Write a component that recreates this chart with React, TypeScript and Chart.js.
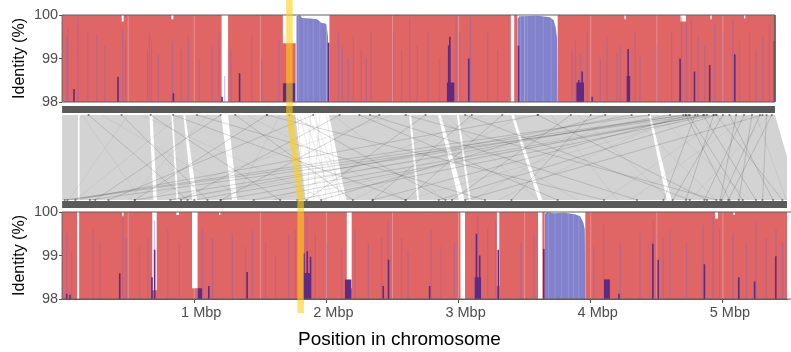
import React, { useEffect, useRef } from 'react';
import { Chart, registerables } from 'chart.js';

Chart.register(...registerables);

const FONT = "'Liberation Sans', Arial, Helvetica, sans-serif";

// ---------------- data (positions in Mbp, identity in %) ----------------
const xTickValues = [1, 2, 3, 4, 5];
const xGridValues = [0.5, 1, 1.5, 2, 2.5, 3, 3.5, 4, 4.5, 5];
const yTickValues = [98, 99, 100];
const yGridValues = [98.5, 99, 99.5];
const xMax = 5.485;
const topLength = 5.394;
const bottomLength = 5.58;
const highlightTop = 1.72;
const highlightBottom = 1.805;

// red identity profile = 100 % except these dips [start, end, level]
const topRedDips: [number, number, number][] = [
  [0.451, 0.466, 99.85], [0.827, 0.842, 99.9], [1.207, 1.256, 98], [1.67, 1.767, 99.35],
  [1.767, 2.023, 98], [3.395, 3.421, 98], [3.445, 3.75, 98], [4.255, 4.265, 99.9],
  [4.68, 4.72, 99.85], [4.905, 4.915, 99.9], [5.16, 5.17, 99.92],
];
const bottomRedDips: [number, number, number][] = [
  [0.114, 0.129, 98], [0.455, 0.465, 99.9], [0.682, 0.716, 98.2], [0.865, 0.885, 99.93],
  [0.983, 1.025, 98.25], [1.188, 1.198, 99.93], [2.154, 2.191, 98.25], [3.014, 3.049, 98],
  [3.29, 3.308, 98.3], [3.601, 3.634, 98], [3.651, 3.959, 98], [4.94, 4.963, 99.85],
  [5.08, 5.09, 99.93],
];

// blue identity regions
const topBlueRegions: [number, number][][] = [
  [[1.772, 98], [1.772, 99.97], [1.8, 100], [1.815, 99.93], [1.88, 99.92], [1.93, 99.9], [1.96, 99.82], [2.0, 99.8], [2.012, 99.5], [2.018, 98]],
  [[3.445, 98], [3.445, 99.9], [3.46, 99.97], [3.6, 99.98], [3.69, 99.95], [3.72, 99.88], [3.735, 99.7], [3.746, 99.45], [3.75, 98]],
];
const bottomBlueRegions: [number, number][][] = [
  [[3.651, 98], [3.651, 99.95], [3.67, 100], [3.72, 99.97], [3.8, 99.98], [3.88, 99.95], [3.92, 99.9], [3.945, 99.75], [3.955, 99.6], [3.959, 98]],
];
// pale streaks inside blue regions [position, identity]
const topBlueStreaks: [number, number][] = [
  [1.79, 99.97], [1.83, 99.92], [1.86, 99.92], [1.9, 99.9], [1.95, 99.85], [3.47, 99.97], [3.52, 99.98], [3.58, 99.98], [3.64, 99.96], [3.7, 99.9],
];
const bottomBlueStreaks: [number, number][] = [
  [3.68, 99.99], [3.73, 99.97], [3.78, 99.98], [3.83, 99.97], [3.87, 99.95], [3.91, 99.9],
];

// light (overlapping) streaks [position, identity]
const topLavender: [number, number][] = [
  [0.035, 99.5], [0.044, 99.7], [0.12, 99.95], [0.195, 99.6], [0.263, 99.55], [0.323, 99.3], [0.458, 99.65], [0.481, 99.4],
  [0.646, 99.2], [0.661, 99.6], [0.676, 99.45], [0.728, 99.1], [0.834, 99.4], [0.902, 99.2], [0.955, 99.5], [1.038, 99.0],
  [1.135, 99.3], [1.188, 99.6], [1.23, 98.6], [1.276, 99.2], [1.434, 99.5], [1.511, 99.0], [1.639, 99.4], [2.091, 99.6],
  [2.121, 99.3], [2.166, 99.0], [2.204, 99.5], [2.264, 99.2], [2.301, 99.0], [2.339, 99.6], [2.503, 99.6], [2.568, 99.2],
  [2.63, 99.95], [2.688, 99.3], [2.768, 99.6], [2.856, 99.0], [2.981, 99.95], [3.007, 99.6], [3.09, 99.95], [3.22, 99.6],
  [3.295, 99.2], [3.859, 99.2], [3.884, 99.4], [3.922, 99.1], [3.972, 99.6], [4.072, 99.0], [4.123, 99.5], [4.198, 99.1],
  [4.223, 99.3], [4.336, 99.6], [4.373, 99.1], [4.499, 99.3], [4.612, 99.6], [4.687, 99.95], [4.725, 99.8], [4.762, 99.9],
  [4.813, 99.5], [4.862, 99.3], [4.938, 99.8], [5.0, 99.6], [5.076, 99.9], [5.126, 99.4], [5.201, 99.6], [5.251, 99.2],
  [5.302, 99.5], [5.351, 99.8],
];
const bottomLavender: [number, number][] = [
  [0.035, 99.5], [0.072, 99.1], [0.235, 99.6], [0.285, 99.3], [0.461, 99.9], [0.486, 99.4], [0.586, 99.2], [0.649, 99.4],
  [0.7, 99.8], [0.799, 99.6], [0.887, 99.3], [1.062, 99.6], [1.138, 99.4], [1.288, 99.5], [1.389, 99.2], [1.439, 99.6],
  [1.539, 99.3], [1.615, 99.0], [1.715, 99.5], [1.765, 99.6], [1.853, 99.9], [1.916, 99.5], [2.003, 99.3], [2.116, 99.2],
  [2.217, 99.6], [2.317, 99.3], [2.417, 99.4], [2.467, 99.8], [2.568, 99.4], [2.618, 99.1], [2.793, 99.6], [2.868, 99.2],
  [2.969, 99.3], [3.145, 99.9], [3.22, 99.6], [3.282, 99.8], [3.47, 99.3], [3.571, 99.5], [4.023, 99.2], [4.098, 99.7],
  [4.223, 99.3], [4.373, 99.5], [4.474, 99.8], [4.549, 99.4], [4.6, 99.6], [4.725, 99.3], [4.85, 99.7], [4.925, 99.9],
  [4.975, 99.6], [5.076, 99.5], [5.176, 99.3], [5.251, 99.8], [5.327, 99.4], [5.402, 99.6], [5.452, 99.3],
];

// dark purple peaks [position, identity] and blocks [start, end, identity]
const topPurplePeaks: [number, number][] = [
  [0.09, 98.3], [0.423, 98.58], [0.842, 98.2], [1.21, 98.12], [1.343, 98.66], [2.016, 99.36], [2.925, 99.3],
  [2.934, 99.5], [3.077, 99.0], [3.453, 99.3], [3.91, 98.5], [3.935, 98.7], [4.01, 98.12], [4.283, 99.22],
  [4.676, 99.0], [4.785, 98.7], [4.9, 98.85], [5.09, 99.1], [5.39, 99.4],
];
const topPurpleBlocks: [number, number, number][] = [
  [1.67, 1.765, 98.43], [2.91, 2.97, 98.45], [3.89, 3.95, 98.45], [4.27, 4.3, 98.6],
];
const bottomPurplePeaks: [number, number][] = [
  [0.035, 98.12], [0.06, 98.1], [0.436, 98.59], [0.68, 98.5], [0.7, 99.13], [1.11, 98.3], [1.4, 98.62],
  [1.83, 99.05], [1.855, 99.1], [1.88, 98.97], [2.43, 98.3], [2.47, 98.9], [2.781, 98.3], [3.135, 99.5],
  [3.16, 99.0], [3.3, 99.13], [3.645, 99.15], [4.213, 98.12], [4.47, 99.27], [4.51, 98.9], [4.86, 98.8],
  [5.12, 98.5], [5.24, 98.4], [5.4, 98.98],
];
const bottomPurpleBlocks: [number, number, number][] = [
  [1.025, 1.06, 98.25], [1.82, 1.88, 98.6], [2.14, 2.19, 98.45], [3.12, 3.17, 98.5], [4.1, 4.145, 98.45],
];

// synteny: unaligned stripes [topStart, topEnd, bottomStart, bottomEnd]
const synGaps: [number, number, number, number][] = [
  [0.12, 0.132, 0.12, 0.132], [0.661, 0.684, 0.691, 0.718], [0.827, 0.839, 0.865, 0.88],
  [0.917, 0.932, 0.985, 1.022], [1.203, 1.256, 1.286, 1.324], [1.765, 2.02, 1.84, 2.15],
  [2.626, 2.641, 2.686, 2.701], [2.844, 2.866, 3.002, 3.047], [2.987, 3.001, 3.077, 3.092],
  [3.398, 3.418, 3.603, 3.632], [4.439, 4.454, 4.574, 4.612],
];
// rearranged alignments [top position, bottom position]
const synDarkLinks: [number, number][] = [
  [4.93, 1.78], [4.72, 0.04], [4.81, 0.21], [4.31, 0.82], [3.6, 0.1], [4.11, 1.96], [4.44, 0.02],
  [4.88, 1.2], [4.75, 2.35], [4.95, 2.85], [4.7, 0.55], [5.3, 3.05], [4.86, 1.45], [4.6, 1.0],
  [0.45, 1.1], [0.67, 1.65], [0.84, 2.6], [1.02, 3.2], [1.31, 2.2], [1.55, 4.1], [2.25, 3.75],
  [2.6, 4.95], [2.33, 4.35], [1.72, 2.9], [0.2, 0.95], [3.05, 4.75], [3.6, 4.88],
  [4.72, 5.05], [4.74, 5.15], [4.93, 4.72], [5.0, 4.62], [5.16, 4.86], [5.1, 4.98], [4.85, 5.25],
  [5.28, 4.99], [5.33, 5.3], [5.22, 5.12], [4.79, 4.55], [5.05, 5.38], [5.37, 5.04], [4.95, 5.45],
  [1.2, 0.25], [1.55, 0.55], [2.1, 0.9], [2.4, 1.2], [1.9, 0.35], [3.1, 2.35], [2.75, 1.85],
  [3.85, 2.95], [4.0, 3.4], [3.33, 2.6],
];
const synLightLinks: [number, number][] = [
  [1.78, 1.84], [1.8, 1.95], [1.83, 2.05], [1.86, 2.12], [1.88, 1.86], [1.92, 2.0], [1.95, 1.9],
  [2.0, 2.1], [1.9, 2.14], [0.3, 1.4], [0.9, 0.1], [1.4, 2.6], [2.8, 3.9], [3.2, 1.6], [3.9, 4.6],
  [4.2, 3.1], [0.6, 2.0], [2.5, 0.6], [4.5, 5.2], [5.2, 4.3], [3.5, 2.2], [1.1, 0.5],
  [4.9, 0.8], [4.78, 1.6], [4.84, 2.6], [4.66, 3.3], [5.02, 4.1], [0.15, 0.6], [0.5, 0.05],
  [2.05, 2.9], [2.9, 3.6], [3.7, 4.2], [4.3, 4.95], [5.25, 5.48], [5.35, 4.75], [1.65, 1.3],
];

// ---------------- builders ----------------
type Pt = { x: number; y: number | null };
const gap = (x: number): Pt => ({ x, y: null });

function profileFromDips(length: number, dips: [number, number, number][]): Pt[] {
  const pts: Pt[] = [{ x: 0, y: 100 }];
  dips.forEach(([s, e, lvl]) => {
    pts.push({ x: s, y: 100 }, { x: s, y: lvl }, { x: e, y: lvl }, { x: e, y: 100 });
  });
  pts.push({ x: length, y: 100 });
  return pts;
}
function regionPts(list: [number, number][][]): Pt[] {
  const pts: Pt[] = [];
  list.forEach((r) => {
    r.forEach(([x, y]) => pts.push({ x, y }));
    pts.push(gap(r[r.length - 1][0]));
  });
  return pts;
}
function spikePts(list: [number, number][]): Pt[] {
  const pts: Pt[] = [];
  list.forEach(([x, h]) => pts.push({ x, y: 98 }, { x, y: h }, gap(x)));
  return pts;
}
function blockPts(list: [number, number, number][]): Pt[] {
  const pts: Pt[] = [];
  list.forEach(([s, e, h]) => pts.push({ x: s, y: 98 }, { x: s, y: h }, { x: e, y: h }, { x: e, y: 98 }, gap(e)));
  return pts;
}
function vlinePts(xs: number[]): Pt[] {
  const pts: Pt[] = [];
  xs.forEach((x) => pts.push({ x, y: 98 }, { x, y: 100 }, gap(x)));
  return pts;
}
function linkPts(list: [number, number][]): Pt[] {
  const pts: Pt[] = [];
  list.forEach(([t, b]) => pts.push({ x: t, y: 1 }, { x: b, y: 0 }, gap(b)));
  return pts;
}
function quadPts(list: [number, number, number, number][]): Pt[] {
  const pts: Pt[] = [];
  list.forEach(([a, b, c, d]) => pts.push({ x: a, y: 1 }, { x: b, y: 1 }, { x: d, y: 0 }, { x: c, y: 0 }, gap(c)));
  return pts;
}
function framePts(length: number): Pt[] {
  return [{ x: 0, y: 98 }, { x: 0, y: 100 }, { x: length, y: 100 }, { x: length, y: 98 }, { x: 0, y: 98 }];
}

const NONE = 'rgba(0,0,0,0)';
const RED = '#E06565';
const BLUE = '#8181CC';
const PURPLE = '#5E2A84';
const LAVENDER = 'rgba(118,100,200,0.36)';

function ds(o: any) {
  return { type: 'line', xAxisID: 'x', pointRadius: 0, borderWidth: 0, borderColor: NONE, tension: 0, spanGaps: false, fill: false, ...o };
}

function panelSets(axis: string, length: number, dips: any, blue: any, blueStreaks: any, lav: any, peaks: any, blocksL: any) {
  return [
    ds({ yAxisID: axis, data: profileFromDips(length, dips), fill: 'start', backgroundColor: RED, order: 15 }),
    ds({ yAxisID: axis, data: regionPts(blue), fill: 'start', backgroundColor: BLUE, order: 14 }),
    ds({ yAxisID: axis, data: spikePts(blueStreaks), borderColor: 'rgba(170,170,230,0.45)', borderWidth: 1, order: 13 }),
    ds({ yAxisID: axis, data: spikePts(lav), borderColor: LAVENDER, borderWidth: 1.2, order: 13 }),
    ds({ yAxisID: axis, data: blockPts(blocksL), fill: 'start', backgroundColor: PURPLE, order: 12 }),
    ds({ yAxisID: axis, data: spikePts(peaks), borderColor: PURPLE, borderWidth: 1.6, order: 11 }),
    ds({ yAxisID: axis, data: vlinePts(xGridValues.filter((g) => g < length)), borderColor: 'rgba(255,255,255,0.28)', borderWidth: 1, order: 10 }),
    ds({ yAxisID: axis, data: framePts(length), borderColor: '#5f5f5f', borderWidth: 1, clip: false, order: 5 }),
  ];
}

function panelAxis(title: string) {
  return {
    type: 'linear',
    position: 'left',
    stack: 'panels',
    stackWeight: 87,
    min: 98,
    max: 100,
    z: 1,
    ticks: {
      stepSize: 0.5,
      autoSkip: false,
      padding: 1,
      color: '#4d4d4d',
      font: { family: FONT, size: 14.5 },
      callback: (v: number) => (yTickValues.includes(v) ? String(v) : ''),
    },
    grid: {
      color: (c: any) => (yGridValues.includes(c.tick.value) ? 'rgba(255,255,255,0.32)' : NONE),
      tickColor: (c: any) => (yTickValues.includes(c.tick.value) ? '#4d4d4d' : NONE),
      tickLength: 3,
      lineWidth: 1,
    },
    border: { display: false },
    title: { display: true, text: title, color: '#000', font: { family: FONT, size: 16 }, padding: { top: 2, bottom: 0 } },
    afterFit: (s: any) => { s.width = 54.1; },
  };
}

export default function App() {
  const ref = useRef<HTMLCanvasElement>(null);
  useEffect(() => {
    const canvas = ref.current!;
    const datasets: any[] = [
      ...panelSets('yTop', topLength, topRedDips, topBlueRegions, topBlueStreaks, topLavender, topPurplePeaks, topPurpleBlocks),
      ...panelSets('yBot', bottomLength, bottomRedDips, bottomBlueRegions, bottomBlueStreaks, bottomLavender, bottomPurplePeaks, bottomPurpleBlocks),
      ds({ yAxisID: 'ySyn', data: quadPts([[0, topLength, 0, bottomLength]]), fill: 'shape', backgroundColor: '#D3D3D3', order: 20 }),
      ds({ yAxisID: 'ySyn', data: quadPts(synGaps), fill: 'shape', backgroundColor: '#FFFFFF', order: 19 }),
      ds({ yAxisID: 'ySyn', data: linkPts(synLightLinks), borderColor: 'rgba(150,150,150,0.3)', borderWidth: 0.6, order: 18 }),
      ds({
        yAxisID: 'ySyn', data: linkPts(synDarkLinks), borderColor: 'rgba(60,60,60,0.33)', borderWidth: 0.6,
        pointRadius: 1.1, pointBackgroundColor: 'rgba(70,70,70,0.65)', pointBorderWidth: 0, order: 17,
      }),
      ds({ yAxisID: 'ySyn', data: [{ x: 0, y: 1.065 }, { x: topLength, y: 1.065 }], borderColor: '#5a5a5a', borderWidth: 7, borderCapStyle: 'butt', order: 16 }),
      ds({ yAxisID: 'ySyn', data: [{ x: 0, y: -0.053 }, { x: bottomLength, y: -0.053 }], borderColor: '#5a5a5a', borderWidth: 7, borderCapStyle: 'butt', order: 16 }),
      ds({
        yAxisID: 'ySyn',
        data: [{ x: highlightTop, y: 2.36 }, { x: highlightTop, y: 1.024 }, { x: highlightBottom, y: 0 }, { x: highlightBottom, y: -1.33 }],
        borderColor: 'rgba(255,208,20,0.6)', borderWidth: 6.5, borderCapStyle: 'butt', borderJoinStyle: 'miter', clip: false, order: 0,
      }),
    ];

    const chart = new Chart(canvas, {
      type: 'line',
      data: { datasets },
      options: {
        responsive: false,
        animation: false,
        devicePixelRatio: 1,
        events: [],
        layout: { padding: { top: 15, left: 8, right: 0, bottom: 0 } },
        plugins: {
          legend: { display: false },
          tooltip: { enabled: false },
          title: {
            display: true,
            position: 'bottom',
            text: 'Position in chromosome',
            color: '#000',
            font: { family: FONT, size: 19, weight: 'normal', lineHeight: 1.2 },
            padding: { top: 3, bottom: 1.2 },
          },
        },
        scales: {
          x: {
            type: 'linear',
            position: 'bottom',
            min: 0,
            max: xMax,
            offset: false,
            ticks: {
              stepSize: 1,
              includeBounds: false,
              autoSkip: false,
              maxRotation: 0,
              padding: 1,
              labelOffset: 7,
              color: '#4d4d4d',
              font: { family: FONT, size: 14.5 },
              callback: (v: number) => (xTickValues.includes(v) ? `${v} Mbp` : ''),
            },
            grid: {
              drawOnChartArea: false,
              tickLength: 4,
              offset: false,
              tickColor: (c: any) => (xTickValues.includes(c.tick.value) ? '#4d4d4d' : NONE),
            },
            border: { display: true, color: '#5f5f5f', width: 1 },
            afterFit: (s: any) => { s.height = 26; },
          },
          yBot: panelAxis('Identity (%)'),
          ySyn: {
            type: 'linear',
            position: 'left',
            stack: 'panels',
            stackWeight: 110,
            min: -0.141,
            max: 1.153,
            ticks: { display: false },
            grid: { display: false },
            border: { display: false },
            afterFit: (s: any) => { s.width = 54.1; },
          },
          yTop: panelAxis('Identity (%)'),
        },
      } as any,
    } as any);
    return () => chart.destroy();
  }, []);

  return (
    <div style={{ position: 'fixed', left: 0, top: 0, width: 791, height: 352, background: '#fff' }}>
      <canvas ref={ref} width={791} height={352} style={{ display: 'block', width: 791, height: 352 }} />
    </div>
  );
}
